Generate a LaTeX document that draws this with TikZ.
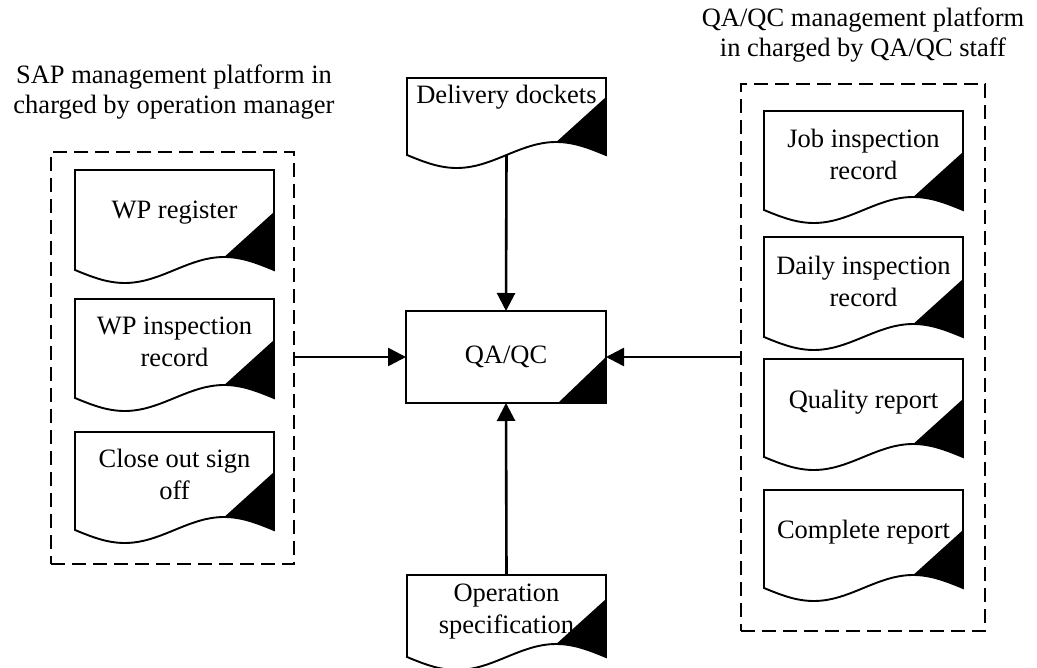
\documentclass[tikz,border=0pt]{standalone}
\usepackage{fontspec}
\setmainfont{Liberation Serif}
\usetikzlibrary{arrows.meta,calc}
\tikzset{
  docline/.style={line width=1.9pt, line join=miter},
  docbody/.style={rectangle, draw=none, inner sep=0pt, outer sep=0pt},
  doctext/.style={align=center, font=\fontsize{26.5}{32}\selectfont, inner sep=0pt},
  titletext/.style={align=center, font=\fontsize{26.5}{30}\selectfont, inner sep=0pt},
  corner/.style={fill=black},
  groupbox/.style={rectangle, draw, line width=2.2pt, dash pattern=on 14pt off 7pt, inner sep=0pt, outer sep=0pt},
  procbox/.style={rectangle, draw, line width=1.9pt, inner sep=0pt, outer sep=0pt, font=\fontsize{26.5}{32}\selectfont},
  flow/.style={line width=2.6pt, -{Triangle[length=18pt,width=18pt]}}
}
\newcommand\docsh[7]{%
  \node[docbody, minimum width=#4pt, minimum height=#5pt, anchor=north west] (#1) at (#2,#3) {};
  \fill[corner] (#2+#4,#3+#5-58) -- (#2+0.75*#4,#3+#5-13) cos (#2+#4,#3+#5) -- cycle;
  \draw[docline] (#2,#3) -- (#2+#4,#3) -- (#2+#4,#3+#5) sin (#2+0.75*#4,#3+#5-13) cos (#2+0.5*#4,#3+#5) sin (#2+0.25*#4,#3+#5+13) cos (#2,#3+#5) -- cycle;
  \node[doctext] (#1-t) at ([yshift=#6pt]#1.center) {#7};
}
\begin{document}
\begin{tikzpicture}[x=1pt,y=-1pt]
  \useasboundingbox (0,0) rectangle (1037,668);
  % group boxes
  \node[groupbox, minimum width=243pt, minimum height=412pt] (left) at (172.5,358) {};
  \node[groupbox, minimum width=244pt, minimum height=547pt] (right) at (863,357.5) {};
  % titles
  \node[titletext] (lefttitle) at (174,92) {SAP management platform in\\charged by operation manager};
  \node[titletext] (righttitle) at (863,35) {QA/QC management platform\\in charged by QA/QC staff};
  % left documents
  \docsh{wpreg}{75}{170}{199}{100}{7}{WP register}
  \docsh{wpins}{75}{299}{199}{99}{7}{WP inspection\\record}
  \docsh{close}{75}{432}{199}{98}{7}{Close out sign\\off}
  % right documents
  \docsh{job}{764}{111}{199}{99}{6}{Job inspection\\record}
  \docsh{daily}{764}{237}{199}{100}{6}{Daily inspection\\record}
  \docsh{quality}{764}{359}{199}{98}{6}{Quality report}
  \docsh{complete}{764}{490}{199}{98}{7}{Complete report}
  % center documents
  \docsh{delivery}{407}{78}{199}{77}{19}{Delivery dockets}
  \docsh{operation}{407}{575}{199}{82}{4}{Operation\\specification}
  % QA/QC
  \node[procbox, minimum width=200pt, minimum height=92pt] (qa) at (506,357) {QA/QC};
  \fill[corner] (qa.east) -- (qa.south east) -- ([xshift=-48pt]qa.south east) -- cycle;
  \draw[line width=1.9pt] (qa.north west) rectangle (qa.south east);
  % connectors
  \draw[flow] (delivery.south) -- (qa.north);
  \draw[flow] (operation.north) -- (qa.south);
  \draw[flow] (left.east |- qa.west) -- (qa.west);
  \draw[flow] (right.west |- qa.east) -- (qa.east);
\end{tikzpicture}
\end{document}
